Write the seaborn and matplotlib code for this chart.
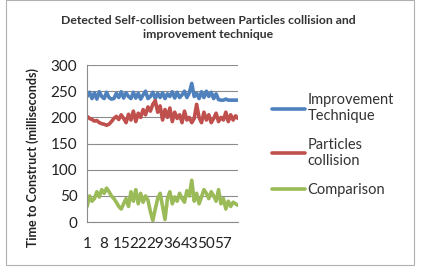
import numpy as np
import pandas as pd
import matplotlib
matplotlib.use("Agg")
import matplotlib.pyplot as plt
import seaborn as sns
from matplotlib.patches import Rectangle

# values (63 runs)
improvement = [240, 248, 236, 247, 235, 249, 240, 236, 248, 238,
               235, 236, 246, 238, 249, 237, 247, 240, 236, 248,
               237, 246, 235, 243, 250, 236, 240, 248, 236, 246,
               238, 247, 236, 245, 240, 249, 237, 248, 238, 243,
               250, 238, 247, 265, 240, 246, 236, 249, 238, 250,
               240, 248, 236, 245, 234, 233, 233, 235, 233, 233,
               233, 233, 233]
particles = [202, 198, 196, 193, 194, 190, 188, 187, 185, 187,
             192, 198, 202, 196, 205, 198, 190, 206, 195, 212,
             192, 208, 200, 215, 205, 220, 212, 225, 232, 210,
             222, 195, 215, 200, 218, 192, 210, 198, 205, 190,
             212, 195, 200, 190, 198, 225, 200, 190, 210, 195,
             205, 190, 198, 208, 192, 200, 195, 210, 192, 205,
             195, 203, 198]
comparison = [30, 50, 40, 45, 58, 48, 62, 55, 65, 58,
              50, 45, 38, 30, 25, 35, 45, 30, 58, 40,
              62, 35, 55, 38, 50, 42, 20, 3, 25, 45,
              55, 30, 5, 45, 58, 35, 48, 40, 55, 45,
              38, 60, 50, 80, 40, 55, 35, 48, 62, 55,
              45, 58, 50, 40, 62, 35, 45, 25, 40, 30,
              38, 35, 32]
series_names = ["Improvement\nTechnique", "Particles\ncollision", "Comparison"]
colors = ["#4F81BD", "#C0504D", "#9BBB59"]
xtick_vals = [1, 8, 15, 22, 29, 36, 43, 50, 57]
ytick_vals = [0, 50, 100, 150, 200, 250, 300]

run = np.arange(1, len(improvement) + 1)
df = pd.DataFrame({
    "run": np.concatenate([run, run, run]),
    "time": improvement + particles + comparison,
    "series": np.repeat(series_names, len(run)),
})

sns.set_style("white")
plt.rcParams["font.family"] = ["Lato", "DejaVu Sans"]

fig = plt.figure(figsize=(4.25, 2.78), dpi=100)
ax = fig.add_axes([0.205, 0.201, 0.355, 0.565])

sns.lineplot(data=df, x="run", y="time", hue="series", palette=colors,
             linewidth=2.6, ax=ax, legend=False)

ax.set_xlim(1, len(run))
ax.set_ylim(0, 300)
ax.set_yticks(ytick_vals)
ax.set_xticks(xtick_vals)
ax.set_xticklabels([str(v) for v in xtick_vals])
ax.tick_params(axis="both", labelsize=11, length=0, colors="#222222")
ax.tick_params(axis="x", pad=11)
ax.tick_params(axis="y", pad=7)
ax.yaxis.grid(True, color="#8c8c8c", linewidth=0.8)
ax.set_axisbelow(True)
for s in ["top", "right"]:
    ax.spines[s].set_visible(False)
for s in ["left", "bottom"]:
    ax.spines[s].set_color("#8c8c8c")
    ax.spines[s].set_linewidth(0.8)
ax.set_xlabel("")
ax.set_ylabel("Time to Construct (milliseconds)", fontsize=9, fontweight="bold",
              color="#222222")
ax.yaxis.set_label_coords(-0.32, 0.41)

fig.text(0.49, 0.9, "Detected Self-collision between Particles collision and\nimprovement technique",
         ha="center", va="center", fontsize=8.8, fontweight="bold", color="#333333",
         linespacing=1.35)

handles = [plt.Line2D([], [], color=c, linewidth=2.6) for c in colors]
fig.legend(handles, series_names, loc="upper left", bbox_to_anchor=(0.608, 0.712),
           frameon=False, fontsize=10.5, handlelength=2.3, handletextpad=0.15,
           labelspacing=1.0, labelcolor="#333333")

fig.patches.append(Rectangle((6 / 425, 13 / 278), 408 / 425, 265 / 278,
                             transform=fig.transFigure, fill=False,
                             edgecolor="#b0b0b0", linewidth=0.8))

fig.savefig("out.png", dpi=100)
